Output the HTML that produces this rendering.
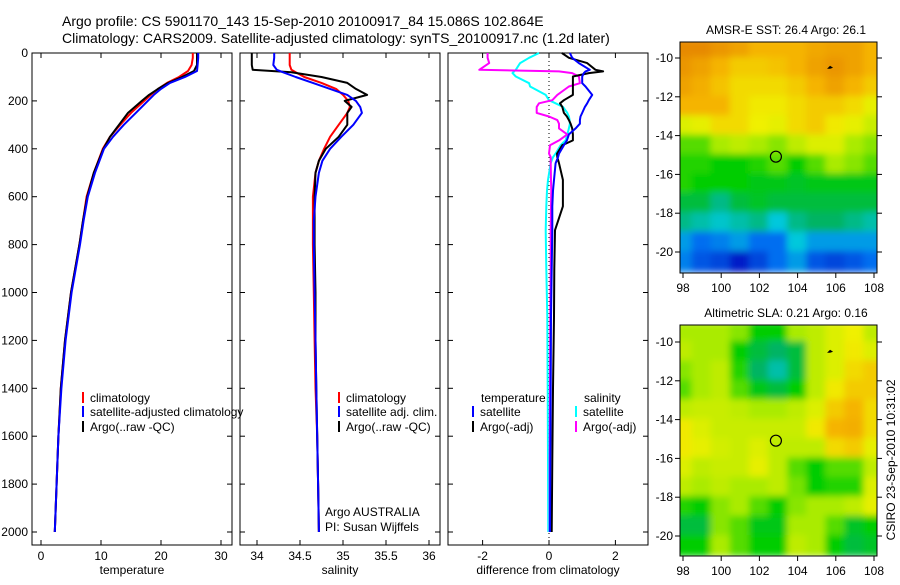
<!DOCTYPE html>
<html><head><meta charset="utf-8"><style>
body{margin:0;background:#fff;}
svg{font-family:"Liberation Sans",sans-serif;}
</style></head><body>
<svg id="fig" width="900" height="580" xmlns="http://www.w3.org/2000/svg">
<defs>
<filter id="blur" x="-10%" y="-10%" width="120%" height="120%"><feGaussianBlur stdDeviation="3.5"/></filter>
<clipPath id="clip1"><rect x="680" y="42" width="197" height="231"/></clipPath>
<clipPath id="clip2"><rect x="680" y="325" width="197" height="231"/></clipPath>
</defs>
<text x="62" y="26" font-size="14">Argo profile: CS 5901170_143 15-Sep-2010 20100917_84 15.086S 102.864E</text>
<text x="62" y="43" font-size="14">Climatology: CARS2009. Satellite-adjusted climatology: synTS_20100917.nc (1.2d later)</text>
</svg>
<script>
// ---- data ----
const tDepth=[0,20,50,75,100,125,150,175,200,250,300,350,400,500,600,700,800,1000,1200,1400,1600,1800,2000];
const tClim=[25.3,25.3,25.1,24.5,23,21,19.5,18.3,17.2,15,13.2,11.5,10.3,8.8,7.6,7,6.4,5,4,3.3,2.9,2.6,2.3];
const tSat=[26.2,26.2,26.1,26,24,21.5,20,18.8,17.8,15.8,13.8,12,10.5,9,7.8,7.1,6.5,5.1,4.1,3.4,2.9,2.6,2.3];
const tArgo=[26,26,26,25.5,23.5,21.2,19.5,18,16.8,14.5,13,11.5,10.4,8.8,7.7,7,6.4,5,4,3.3,2.9,2.6,2.3];
const sDepth=[0,20,50,70,80,100,125,150,175,200,225,250,300,350,400,450,500,600,700,800,1000,1200,1400,1600,1800,2000];
const sClim=[34.38,34.38,34.38,34.4,34.45,34.55,34.75,34.92,35.0,35.06,35.08,35.05,34.95,34.85,34.78,34.72,34.68,34.65,34.65,34.65,34.66,34.67,34.68,34.70,34.71,34.72];
const sSat=[34.2,34.2,34.19,34.23,34.3,34.45,34.65,34.85,35.05,35.15,35.2,35.22,35.12,34.98,34.85,34.76,34.72,34.68,34.66,34.66,34.67,34.68,34.69,34.70,34.71,34.72];
const sArgo=[33.94,33.94,33.94,33.95,34.4,34.75,35.05,35.15,35.28,35.02,35.1,35.05,35.05,34.95,34.8,34.72,34.68,34.67,34.67,34.67,34.68,34.68,34.69,34.70,34.71,34.72];
const dDepth=[0,20,42,70,77,84,98,126,140,175,197,210,225,250,265,280,295,315,340,365,385,420,435,460,530,575,640,740,900,1100,1400,1700,2000];
const dTSat=[0.63,0.7,0.9,1.23,1.1,1.05,1.0,1.0,1.1,1.3,1.2,1.15,1.08,1.0,0.95,0.93,0.93,0.8,0.6,0.54,0.45,0.3,0.27,0.2,0.15,0.12,0.1,0.1,0.08,0.06,0.05,0.04,0.03];
const dTArgo=[0.39,0.6,1.15,1.4,1.63,1.2,0.72,0.72,0.72,0.72,0.45,0.33,0.4,0.45,0.54,0.6,0.65,0.7,0.72,0.72,0.4,0.24,0.25,0.3,0.42,0.42,0.42,0.18,0.16,0.15,0.12,0.1,0.08];
const dSSat=[-0.3,-0.6,-0.87,-1.0,-1.05,-1.1,-1.0,-0.6,-0.57,-0.1,0.0,0.2,0.42,0.55,0.6,0.62,0.63,0.6,0.55,0.5,0.35,0.2,0.12,0.05,-0.03,-0.06,-0.08,-0.1,-0.08,-0.05,-0.04,-0.03,-0.02];
const dSArgo=[-1.85,-1.85,-1.8,-2.1,0.3,0.7,0.9,0.93,0.6,0.25,0.1,-0.3,-0.37,-0.37,0.0,0.25,0.3,0.3,0.55,0.3,0.03,0.0,0.05,0.05,0.06,0.07,0.06,0.05,0.05,0.04,0.03,0.02,0.02];
const depthTicks=[0,200,400,600,800,1000,1200,1400,1600,1800,2000];
const tTicks=[0,10,20,30];
const sTicks=[34,34.5,35,35.5,36];
const dTicks=[-2,0,2];
const lonTicks=[98,100,102,104,106,108];
const latTicks=[-10,-12,-14,-16,-18,-20];
const sstGrid=[
[.82,.82,.8,.78,.75,.75,.75,.77,.78,.78,.75],
[.8,.78,.75,.72,.72,.73,.75,.78,.8,.78,.75],
[.78,.76,.73,.7,.7,.7,.72,.75,.78,.75,.72],
[.75,.75,.75,.7,.68,.68,.7,.72,.72,.7,.66],
[.65,.66,.7,.7,.67,.66,.7,.72,.68,.66,.63],
[.55,.55,.6,.62,.6,.58,.62,.65,.65,.6,.58],
[.52,.52,.5,.5,.52,.55,.5,.55,.6,.58,.55],
[.52,.5,.5,.5,.48,.48,.47,.48,.48,.48,.48],
[.45,.45,.4,.45,.47,.45,.45,.45,.45,.45,.45],
[.4,.38,.36,.38,.4,.35,.4,.42,.42,.4,.38],
[.3,.25,.27,.3,.25,.25,.35,.3,.3,.3,.3],
[.27,.22,.2,.15,.2,.25,.3,.22,.2,.22,.25]];
const slaGrid=[
[.6,.6,.6,.58,.5,.5,.6,.62,.65,.67,.62],
[.62,.6,.6,.5,.45,.42,.45,.62,.65,.68,.65],
[.58,.6,.62,.52,.42,.38,.45,.62,.65,.7,.72],
[.55,.6,.62,.55,.48,.45,.5,.62,.68,.72,.72],
[.62,.63,.63,.62,.6,.6,.62,.65,.72,.75,.7],
[.68,.65,.63,.63,.63,.63,.63,.68,.75,.76,.7],
[.68,.66,.64,.63,.65,.62,.62,.62,.7,.72,.66],
[.65,.62,.63,.63,.66,.62,.55,.5,.55,.55,.62],
[.62,.6,.62,.6,.6,.62,.57,.5,.52,.52,.65],
[.52,.5,.58,.6,.55,.5,.58,.6,.6,.62,.66],
[.45,.45,.58,.55,.48,.48,.6,.6,.55,.47,.5],
[.5,.5,.6,.55,.5,.5,.62,.6,.5,.45,.47]];
const argoLon=102.864, argoLat=-15.086;

// ---- helpers ----
const svg=document.getElementById('fig');
const NS='http://www.w3.org/2000/svg';
function mk(tag,attrs,parent){const e=document.createElementNS(NS,tag);for(const k in attrs)e.setAttribute(k,attrs[k]);(parent||svg).appendChild(e);return e;}
function txt(x,y,s,size,anchor,parent){const e=mk('text',{x:x,y:y,'font-size':size||12,'text-anchor':anchor||'start'},parent);e.textContent=s;return e;}
const Y=d=>53+d*0.2395;
const PT=53,PB=545;

function panel(name,x0,x1,ticks,xs,fmt,label){
  const g=mk('g',{});
  
  
  const r=mk('rect',{x:x0,y:PT,width:x1-x0,height:PB-PT,fill:'none',stroke:'#000','stroke-width':1},g);
  
  
  depthTicks.forEach(d=>{mk('line',{x1:x0,x2:x0+5,y1:Y(d),y2:Y(d),stroke:'#000'},g);mk('line',{x1:x1,x2:x1-5,y1:Y(d),y2:Y(d),stroke:'#000'},g);});
  ticks.forEach(v=>{const x=xs(v);mk('line',{x1:x,x2:x,y1:PT,y2:PT+5,stroke:'#000'},g);mk('line',{x1:x,x2:x,y1:PB,y2:PB-5,stroke:'#000'},g);
    const t=txt(x,560,fmt(v),12,'middle',g);});
  const l=txt((x0+x1)/2,574,label,12,'middle',g);
  
  
  return g;
}
function line(g,xs,vals,depths,color,w,name){
  const pts=vals.map((v,i)=>xs(v).toFixed(1)+','+Y(depths[i]).toFixed(1)).join(' ');
  const p=mk('polyline',{points:pts,fill:'none',stroke:color,'stroke-width':w,'stroke-linejoin':'round'},g);
  
  
}
function legend(g,x,y,color,label){
  mk('line',{x1:x,x2:x,y1:y-10,y2:y+1,stroke:color,'stroke-width':2},g);
  const t=txt(x+7,y,label,12,'start',g);
  
  
}

// y tick labels
depthTicks.forEach(d=>{const t=txt(28,Y(d)+4,String(d),12,'end');});

// temperature panel
const xT=v=>41+v*6;
const g1=panel('temperature-panel',32,232,tTicks,xT,v=>String(v),'temperature');
line(g1,xT,tClim,tDepth,'#f00',2,'temperature-climatology-line');
line(g1,xT,tArgo,tDepth,'#000',2,'temperature-argo-line');
line(g1,xT,tSat,tDepth,'#00f',2,'temperature-satellite-line');
legend(g1,83,402,'#f00','climatology');
legend(g1,83,416,'#00f','satellite-adjusted climatology');
legend(g1,83,431,'#000','Argo(..raw -QC)');

// salinity panel
const xS=v=>257+(v-34)*86;
const g2=panel('salinity-panel',240,440,sTicks,xS,v=>String(v),'salinity');
line(g2,xS,sClim,sDepth,'#f00',2,'salinity-climatology-line');
line(g2,xS,sArgo,sDepth,'#000',2,'salinity-argo-line');
line(g2,xS,sSat,sDepth,'#00f',2,'salinity-satellite-line');
legend(g2,339,402,'#f00','climatology');
legend(g2,339,416,'#00f','satellite adj. clim.');
legend(g2,339,431,'#000','Argo(..raw -QC)');
let t=txt(325,516,'Argo AUSTRALIA',12,'start',g2);
t=txt(325,531,'PI: Susan Wijffels',12,'start',g2);

// difference panel
const xD=v=>549+v*33.2;
const g3=panel('difference-panel',448,648,dTicks,xD,v=>String(v),'difference from climatology');
mk('line',{x1:xD(0),x2:xD(0),y1:PT,y2:PB,stroke:'#000','stroke-dasharray':'1,3'},g3);
line(g3,xD,dSSat,dDepth,'#0ff',2,'salinity-satellite-diff-line');
line(g3,xD,dSArgo,dDepth,'#f0f',2,'salinity-argo-diff-line');
line(g3,xD,dTArgo,dDepth,'#000',2,'temperature-argo-diff-line');
line(g3,xD,dTSat,dDepth,'#00f',2,'temperature-satellite-diff-line');
t=txt(481,402,'temperature',12,'start',g3);
t=txt(584,402,'salinity',12,'start',g3);
legend(g3,473,416,'#00f','satellite');
legend(g3,473,431,'#000','Argo(-adj)');
legend(g3,576,416,'#0ff','satellite');
legend(g3,576,431,'#f0f','Argo(-adj)');

// ---- maps ----
const stops=[[0,0,0,130],[.15,0,30,200],[.25,0,110,240],[.35,0,200,220],[.42,0,180,100],[.5,0,205,0],[.6,170,235,0],[.67,240,240,0],[.75,245,180,0],[.85,225,120,0],[1,200,80,0]];
function cmap(v){for(let i=1;i<stops.length;i++){if(v<=stops[i][0]){const a=stops[i-1],b=stops[i],f=(v-a[0])/(b[0]-a[0]);return 'rgb('+[1,2,3].map(k=>Math.round(a[k]+(b[k]-a[k])*f)).join(',')+')';}}return 'rgb(200,80,0)';}
function map(name,grid,top,lat10y,lat20y,title,clip){
  const g=mk('g',{});
  
  
  const lx=v=>683+(v-98)*19.1;
  const ly=v=>lat10y+(-10-v)*(lat20y-lat10y)/10;
  const cg=mk('g',{'clip-path':'url(#'+clip+')'},g);
  const bg=mk('g',{filter:'url(#blur)'},cg);
  grid.forEach((row,r)=>row.forEach((v,c)=>{
    const lon0=97.5+c, lat0=-9+ -r;
    const cell=mk('rect',{x:lx(lon0)-1,y:ly(lat0)-1,width:19.1+2,height:(lat20y-lat10y)/10+2,fill:cmap(v)},bg);
    
    
  }));
  const fr=mk('rect',{x:680,y:top,width:197,height:231,fill:'none',stroke:'#000'},g);
  
  
  lonTicks.forEach(v=>{mk('line',{x1:lx(v),x2:lx(v),y1:top+231,y2:top+236,stroke:'#000'},g);
    const tt=txt(lx(v),top+250,String(v),12,'middle',g);});
  latTicks.forEach(v=>{mk('line',{x1:675,x2:680,y1:ly(v),y2:ly(v),stroke:'#000'},g);mk('line',{x1:877,x2:882,y1:ly(v),y2:ly(v),stroke:'#000'},g);
    const tt=txt(673,ly(v)+4,String(v),12,'end',g);});
  const c=mk('circle',{cx:lx(argoLon),cy:ly(argoLat),r:5.5,fill:'none',stroke:'#000','stroke-width':1.2},g);
  
  
  const m=mk('path',{d:'M'+(lx(105.7)-3)+','+(ly(-10.5)+1)+' l3,-3 l3,2 l-3,1z',fill:'#000'},g);
  
  
  const tt=txt(786,top-8,title,12,'middle',g);
  
  
}
map('sst-map',sstGrid,42,58,252,'AMSR-E SST: 26.4 Argo: 26.1','clip1');
map('sla-map',slaGrid,325,342,536,'Altimetric SLA: 0.21 Argo: 0.16','clip2');
const cr=txt(0,0,'CSIRO 23-Sep-2010 10:31:02',12,'middle');
cr.setAttribute('transform','translate(895,460) rotate(-90)');


</script>
</body></html>
